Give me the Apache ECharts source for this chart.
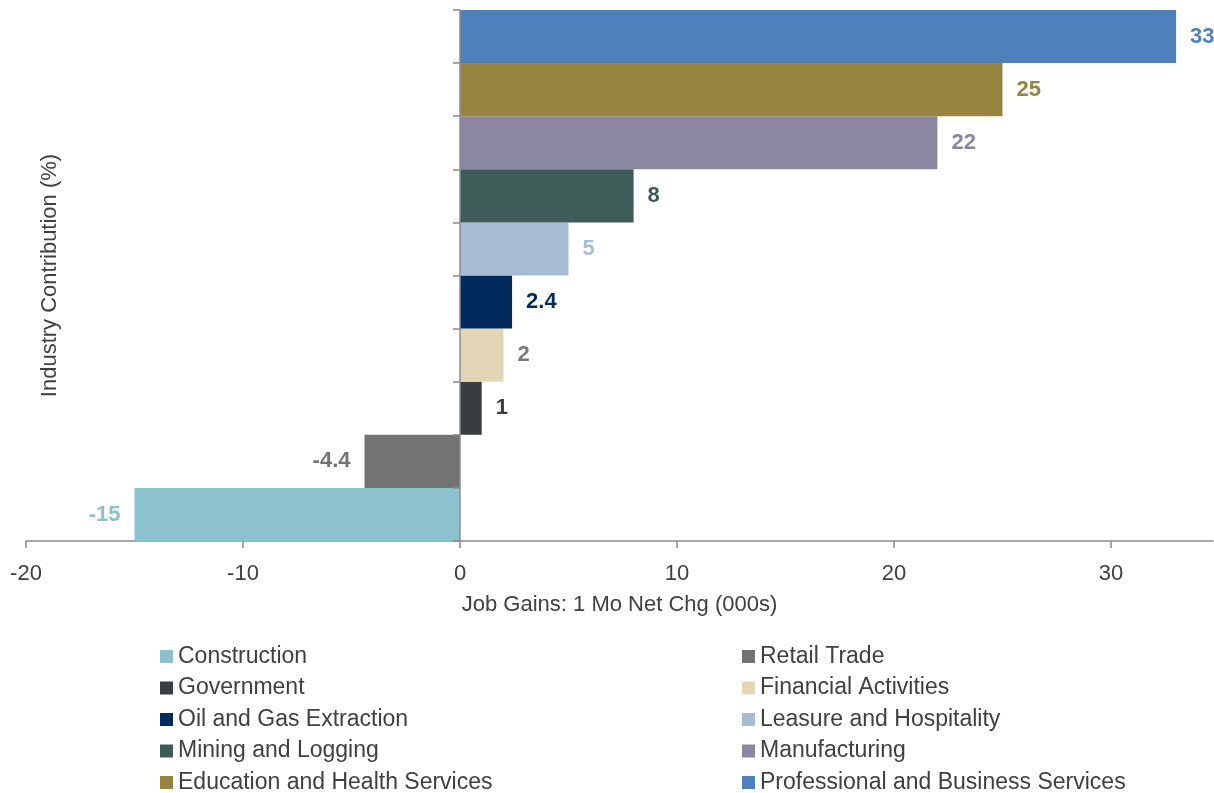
<!DOCTYPE html>
<html>
<head>
<meta charset="utf-8">
<script src="https://cdn.jsdelivr.net/npm/echarts@6/dist/echarts.min.js"></script>
<style>
  html, body { margin: 0; padding: 0; background: #fff; }
  #chart { width: 1214px; height: 793px; }
</style>
</head>
<body>
<div id="chart"></div>
<script>
// categories, bottom to top
const industries = [
  'Construction',
  'Retail Trade',
  'Government',
  'Financial Activities',
  'Oil and Gas Extraction',
  'Leasure and Hospitality',
  'Mining and Logging',
  'Manufacturing',
  'Education and Health Services',
  'Professional and Business Services'
];
const jobGains = [-15, -4.4, 1, 2, 2.4, 5, 8, 22, 25, 33];
const xTicks = [-20, -10, 0, 10, 20, 30];

const barColors = ['#8CC1CE', '#737373', '#3A3D40', '#E2D6B7', '#002B5C',
  '#A5BCD4', '#3D5C58', '#8B87A3', '#968440', '#4E80BC'];
const labelColors = ['#8CC1CE', '#737373', '#3A3D40', '#7A7A7A', '#002B5C',
  '#A5BCD4', '#3D5C58', '#8B87A3', '#968440', '#4E80BC'];

const font = 'Liberation Sans, Arial, sans-serif';
const axisColor = '#8C8C8C';
const textColor = '#404040';

let chart = echarts.init(document.getElementById('chart'));

// one series per industry so the legend gets an entry each
let series = industries.map(function (name, i) {
  let data = industries.map(function (c, j) { return j === i ? jobGains[i] : '-'; });
  return {
    name: name,
    type: 'bar',
    stack: 'total',
    barCategoryGap: '0%',
    itemStyle: { color: barColors[i] },
    label: {
      show: true,
      position: jobGains[i] < 0 ? 'left' : 'right',
      distance: 14,
      color: labelColors[i],
      fontFamily: font,
      fontWeight: 'bold',
      fontSize: 22
    },
    data: data
  };
});

function legendCol(left, names) {
  return {
    orient: 'vertical',
    left: left,
    top: 645,
    height: 150,
    padding: 0,
    itemWidth: 13,
    itemHeight: 13,
    itemGap: 8.5,
    icon: 'rect',
    textStyle: { fontSize: 23, color: textColor, fontFamily: font },
    data: names
  };
}

chart.setOption({
  animation: false,
  textStyle: { fontFamily: font },
  grid: { left: 26, right: 1, top: 10, bottom: 252, containLabel: false, outerBoundsMode: 'none' },
  legend: [
    legendCol(160, industries.filter(function (n, i) { return i % 2 === 0; })),
    legendCol(742, industries.filter(function (n, i) { return i % 2 === 1; }))
  ],
  xAxis: {
    type: 'value',
    min: -20,
    max: 34.7,
    interval: 10,
    name: 'Job Gains: 1 Mo Net Chg (000s)',
    nameLocation: 'middle',
    nameGap: 53,
    nameTextStyle: { fontSize: 22, color: textColor, fontFamily: font },
    axisLine: { show: true, lineStyle: { color: axisColor, width: 1.5 } },
    axisTick: { show: true, length: 7, customValues: xTicks, lineStyle: { color: axisColor, width: 1.5 } },
    axisLabel: { customValues: xTicks, margin: 22, fontSize: 22, color: textColor, fontFamily: font },
    splitLine: { show: false }
  },
  yAxis: {
    type: 'category',
    data: industries,
    z: 5,
    name: 'Industry Contribution (%)',
    nameLocation: 'middle',
    nameGap: -35,
    nameRotate: 90,
    nameTextStyle: { fontSize: 22, color: textColor, fontFamily: font },
    axisLine: { show: true, onZero: true, lineStyle: { color: axisColor, width: 1.5 } },
    axisTick: { show: true, length: 7, lineStyle: { color: axisColor, width: 1.5 } },
    axisLabel: { show: false },
    splitLine: { show: false }
  },
  series: series
});
</script>
</body>
</html>
